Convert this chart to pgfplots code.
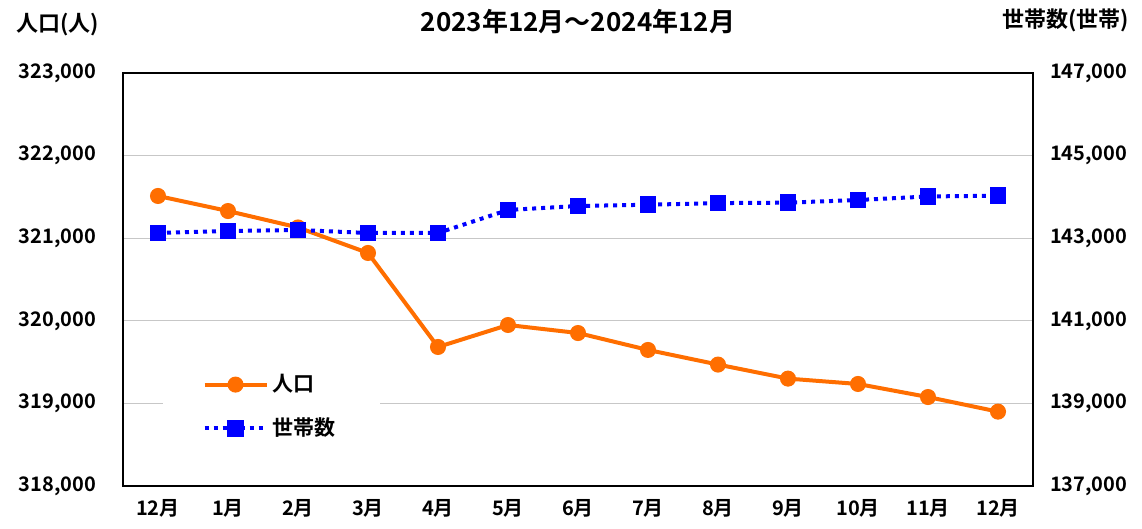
\documentclass[border=0pt]{standalone}
\usepackage{fontspec}
\setmainfont{Noto Sans CJK JP}[BoldFont=* Bold]
\usepackage{pgfplots}
\pgfplotsset{compat=1.18}
\definecolor{popc}{RGB}{255,110,0}
\definecolor{hhc}{RGB}{0,0,255}
\begin{document}
\begin{tikzpicture}
\useasboundingbox (-61.5pt,-21.5pt) rectangle (509.5pt,243pt);
\pgfplotsset{
 common/.style={scale only axis, width=455pt, height=206.5pt,
  xmin=-0.5, xmax=12.5, at={(0,0)}, anchor=south west,
  /pgf/number format/assume math mode=true,
  /pgf/number format/fixed,
  /pgf/number format/1000 sep={,},
  ticklabel style={font=\bfseries\fontsize{10}{12}\selectfont},
  major tick length=0pt, scaled y ticks=false,
  axis line style={line width=0.6pt},
 }
}
\begin{axis}[common,
  ymin=318000, ymax=323000, ytick={318000,319000,...,323000},
  ymajorgrids, grid style={draw=black!22, line width=0.6pt},
  xtick={0,...,12},
  xticklabels={12月,1月,2月,3月,4月,5月,6月,7月,8月,9月,10月,11月,12月},
  xticklabel style={yshift=-3pt},
  yticklabel style={xshift=-10pt},
]
\addplot[popc, line width=2pt, mark=*, mark size=3pt] coordinates {
 (0,321511) (1,321329) (2,321130) (3,320821) (4,319683) (5,319949)
 (6,319852) (7,319647) (8,319470) (9,319300) (10,319235) (11,319077) (12,318900)
};
\end{axis}
\begin{axis}[common,
  axis y line*=right, axis x line=none,
  ymin=137000, ymax=147000, ytick={137000,139000,...,147000},
  yticklabel style={xshift=5pt},
  legend style={at={(axis description cs:0.043,0.305)}, anchor=north west,
    draw=none, fill=white, inner xsep=20pt, inner ysep=5pt,
    font=\bfseries\fontsize{10.5}{12}\selectfont,
    row sep=7.5pt},
  legend cell align=left,
  legend image code/.code={\draw[mark repeat=2,mark phase=2,#1] plot coordinates {(0pt,0pt) (15.5pt,0pt) (31pt,0pt)};},
]
\addlegendimage{popc, line width=2pt, mark=*, mark size=3pt}
\addlegendentry{人口}
\addplot[hhc, line width=2pt, dash pattern=on 2pt off 2.5pt, mark=square*, mark size=3.2pt, mark options={solid}] coordinates {
 (0,143126) (1,143174) (2,143199) (3,143126) (4,143126) (5,143683)
 (6,143780) (7,143810) (8,143850) (9,143860) (10,143925) (11,144010) (12,144030)
};
\addlegendentry{世帯数}
\end{axis}
\node[anchor=west, font=\bfseries\fontsize{11}{13}\selectfont] at (-57pt,230.5pt) {人口(人)};
\node[anchor=east, font=\bfseries\fontsize{11}{13}\selectfont] at (506.5pt,233pt) {世帯数(世帯)};
\node[font=\bfseries\fontsize{13}{15}\selectfont] at (227.5pt,232pt) {2023年12月～2024年12月};
\end{tikzpicture}
\end{document}
